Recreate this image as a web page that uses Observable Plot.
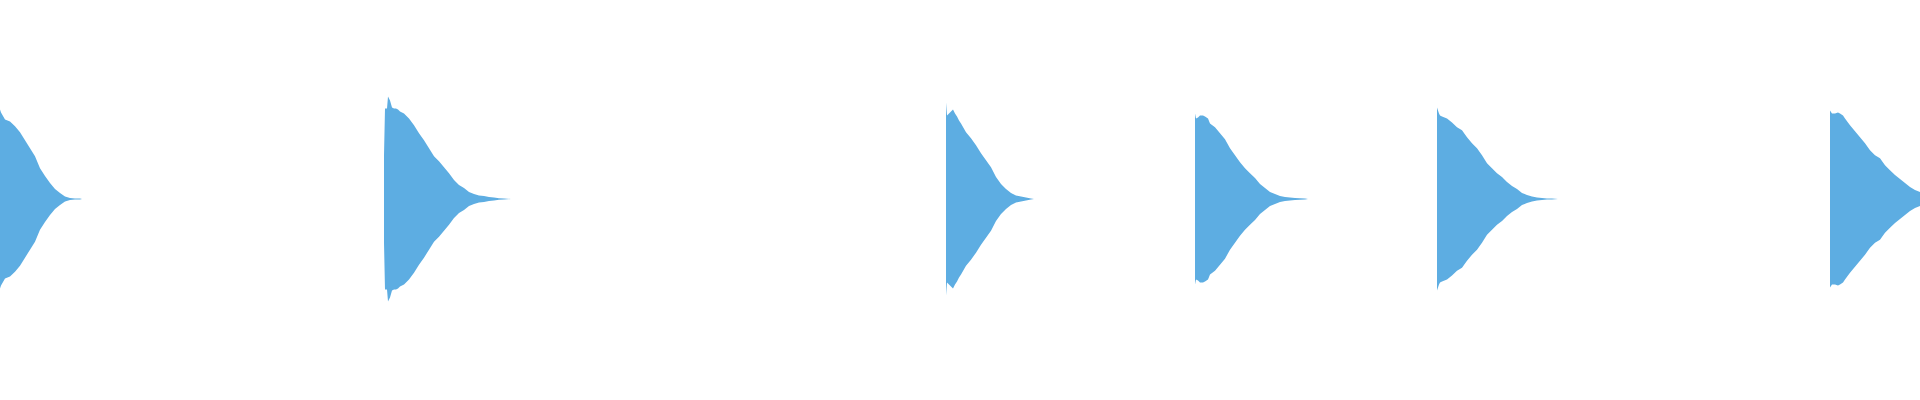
<!DOCTYPE html>
<html>
<head>
<meta charset="utf-8">
<script src="https://cdn.jsdelivr.net/npm/d3@7"></script>
<script src="https://cdn.jsdelivr.net/npm/@observablehq/plot@0.6"></script>
<style>
  html, body { margin: 0; padding: 0; background: #ffffff; }
  #chart svg { display: block; }
</style>
</head>
<body>
<div id="chart"></div>
<script>
// Onset time (ms) of each drum hit in the clip
const hitOnsets = [0, 384, 946, 1195, 1437, 1830];

// Envelope of each hit: [ms after onset, peak amplitude in % of full scale]
const hit1Envelope = [[0,45],[1,43.5],[5,40],[10,39],[15,36.5],[20,33.5],[25,29.5],[30,25.5],[35,21.5],[40,15.5],[45,11.5],[50,8],[55,5],[60,3],[65,1.2],[70,0.5],[75,0.3],[80,0.2],[82,0]];
const hit2Envelope = [[0,22],[1,45.5],[3,45.5],[4,51.5],[6,49.5],[8,46],[10,45.5],[12,45.5],[14,45],[16,44],[20,43],[25,40.5],[30,37],[35,33],[40,29.5],[45,25.5],[50,21.5],[55,19],[60,16],[65,13],[70,9.5],[75,7],[80,5.5],[85,3.5],[90,2.5],[95,1.8],[100,1.5],[105,1],[110,0.7],[115,0.4],[120,0.3],[127,0]];
const hit3Envelope = [[0,48.5],[1,42],[3,43],[5,44],[7,45],[9,43],[11,41.5],[13,39.5],[15,38],[20,33.5],[25,30.5],[30,27],[35,23],[40,19.5],[45,16],[50,11],[55,7.5],[60,5],[65,3],[70,1.8],[75,1.2],[80,0.7],[85,0.3],[88,0]];
const hit4Envelope = [[0,43],[1,40.5],[3,41],[5,42],[8,42],[10,41.5],[13,40.5],[15,38],[20,36],[25,33],[30,30],[35,25.5],[40,22],[45,18.5],[50,15.5],[55,13],[60,10.5],[65,7.5],[70,5.5],[75,3.5],[80,2.5],[85,1.5],[90,1],[95,0.7],[100,0.5],[105,0.35],[110,0.2],[113,0]];
const hit5Envelope = [[0,46],[1,44.5],[2,43],[3,42],[5,41.5],[10,40.5],[15,38.5],[20,36],[25,34.5],[30,31],[35,28],[40,25.5],[45,22],[50,18],[55,15.5],[60,13],[65,11],[70,8.5],[75,6.5],[80,5],[85,3],[90,2],[95,1.2],[100,0.8],[105,0.5],[110,0.3],[115,0.2],[121,0]];
const hit6Envelope = [[0,44.5],[2,43],[5,43],[8,43.5],[10,43],[13,42],[15,40.5],[20,37],[25,34],[30,31],[35,28],[40,24.5],[45,22],[50,20.5],[55,17],[60,14.5],[65,12],[70,10],[75,8],[80,6],[85,4.5],[90,3.5],[95,2.5]];

const envelopes = [hit1Envelope, hit2Envelope, hit3Envelope, hit4Envelope, hit5Envelope, hit6Envelope];
const clipDuration = [0, 1920];

const samples = envelopes.flatMap((env, i) =>
  env.map(([dt, amp]) => ({hit: i, t: hitOnsets[i] + dt, amp}))
);

const chart = Plot.plot({
  width: 1920,
  height: 400,
  marginTop: 0,
  marginRight: 0,
  marginLeft: 0,
  marginBottom: 2,
  x: {domain: clipDuration, axis: null},
  y: {domain: [-100, 100], axis: null},
  marks: [
    Plot.areaY(samples, {
      x: "t",
      y1: d => -d.amp,
      y2: "amp",
      z: "hit",
      fill: "#5DADE2",
      curve: "linear",
      clip: true
    })
  ]
});
document.getElementById("chart").append(chart);
</script>
</body>
</html>
